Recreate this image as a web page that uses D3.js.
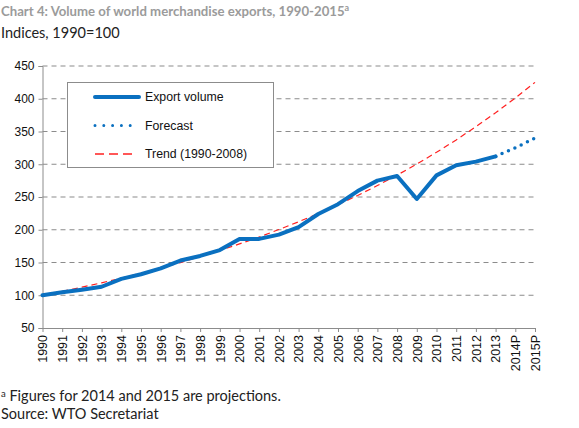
<!DOCTYPE html>
<html><head><meta charset="utf-8">
<script src="https://cdn.jsdelivr.net/npm/d3@7"></script>
<style>body{margin:0;background:#fff}svg{display:block}</style>
</head><body>
<svg id="c" width="579" height="428"></svg>
<script>
const categories = ["1990","1991","1992","1993","1994","1995","1996","1997","1998","1999","2000","2001","2002","2003","2004","2005","2006","2007","2008","2009","2010","2011","2012","2013","2014P","2015P"];
const exportVolume = [100,104.5,108.5,113,125,132,141,153,160,169,186,186,192.5,204,224,239,259,275,282,247,283,298.5,304,312];
const forecastCats = ["2013","2014P","2015P"];
const forecastValues = [312,325,340];
const trendValues = [100,106,112.3,119,126.1,133.6,141.5,149.9,158.9,168.3,178.4,189,200.3,212.2,224.8,238.2,252.4,267.5,283.4,300.3,318.2,337.2,357.3,378.6,401.1,425];
const yTicks = [50,100,150,200,250,300,350,400,450];
const legendLabels = ["Export volume","Forecast","Trend (1990-2008)"];

const svg = d3.select("#c");
const x = d3.scalePoint().domain(categories).range([42.5, 535]);
const y = d3.scaleLinear().domain([50,450]).range([328, 66]);
const blue = "#0a70c0", red = "#ff2020";
const font = "'Liberation Sans', Arial, sans-serif";
const tfont = "Lato, 'Open Sans', sans-serif";

// title
svg.append("text").attr("x",1).attr("y",16).attr("font-family",tfont).attr("font-weight","bold").attr("font-size",13.2).attr("fill","#9b9b9b")
  .text("Chart 4: Volume of world merchandise exports, 1990-2015").append("tspan").attr("dy",-5).attr("font-size",9).text("a");
svg.append("text").attr("x",1).attr("y",38).attr("font-family",tfont).attr("font-size",14.5).attr("fill","#222").text("Indices, 1990=100");

// gridlines
svg.append("g").selectAll("line").data(yTicks.filter(d=>d>50)).join("line")
  .attr("x1",42.5).attr("x2",537).attr("y1",d=>y(d)).attr("y2",d=>y(d))
  .attr("stroke","#8c8c8c").attr("stroke-width",1.2).attr("stroke-dasharray","5,4");

// y axis
const ya = svg.append("g").attr("transform","translate(42.5,0)").call(d3.axisLeft(y).tickValues(yTicks).tickSize(4).tickPadding(4));
ya.select(".domain").attr("stroke","#8c8c8c");
ya.selectAll(".tick line").attr("stroke","#8c8c8c");
ya.selectAll("text").attr("font-family",font).attr("font-size",12).attr("fill","#111");

// x axis
const xa = svg.append("g").attr("transform","translate(0,328)").call(d3.axisBottom(x).tickSize(4).tickSizeOuter(0));
xa.select(".domain").attr("stroke","#8c8c8c");
xa.selectAll(".tick line").attr("stroke","#8c8c8c");
xa.selectAll("text").attr("font-family",font).attr("font-size",12.5).attr("fill","#111")
  .attr("transform","rotate(-90)").attr("text-anchor","end").attr("x",-7).attr("y",0).attr("dy","0.35em");

// trend
svg.append("path").datum(trendValues).attr("fill","none").attr("stroke",red).attr("stroke-width",1.2).attr("stroke-dasharray","6,4")
  .attr("d", d3.line().x((d,i)=>x(categories[i])).y(d=>y(d)));

// export volume
svg.append("path").datum(exportVolume).attr("fill","none").attr("stroke",blue).attr("stroke-width",4).attr("stroke-linejoin","round").attr("stroke-linecap","round")
  .attr("d", d3.line().x((d,i)=>x(categories[i])).y(d=>y(d)));

// forecast
svg.append("path").datum(forecastValues).attr("fill","none").attr("stroke",blue).attr("stroke-width",3.5).attr("stroke-linecap","round").attr("stroke-dasharray","0,7")
  .attr("stroke-dashoffset",-7)
  .attr("d", d3.line().x((d,i)=>x(forecastCats[i])).y(d=>y(d)));

// legend
const lg = svg.append("g");
lg.append("rect").attr("x",67.5).attr("y",82.5).attr("width",206).attr("height",85).attr("fill","#fff").attr("stroke","#8c8c8c").attr("stroke-width",1);
const ly = [97,125.5,154];
lg.append("line").attr("x1",95).attr("x2",139).attr("y1",ly[0]).attr("y2",ly[0]).attr("stroke",blue).attr("stroke-width",4).attr("stroke-linecap","round");
lg.append("line").attr("x1",95).attr("x2",139).attr("y1",ly[1]).attr("y2",ly[1]).attr("stroke",blue).attr("stroke-width",3).attr("stroke-linecap","round").attr("stroke-dasharray","0,8.8");
lg.append("line").attr("x1",95).attr("x2",133).attr("y1",ly[2]).attr("y2",ly[2]).attr("stroke",red).attr("stroke-width",1.3).attr("stroke-dasharray","9,5");
lg.selectAll("text.l").data(legendLabels).join("text").attr("x",145).attr("y",(d,i)=>ly[i]).attr("dy","0.35em")
  .attr("font-family",font).attr("font-size",12.3).attr("fill","#111").text(d=>d);

// footnotes
const fn = svg.append("text").attr("x",1).attr("y",401).attr("font-family",tfont).attr("font-size",14.5).attr("fill","#222");
fn.append("tspan").attr("font-size",9.5).attr("dy",-4).text("a");
fn.append("tspan").attr("dy",4).text(" Figures for 2014 and 2015 are projections.");
svg.append("text").attr("x",1).attr("y",419).attr("font-family",tfont).attr("font-size",14.5).attr("fill","#222").text("Source: WTO Secretariat");
</script>
</body></html>
